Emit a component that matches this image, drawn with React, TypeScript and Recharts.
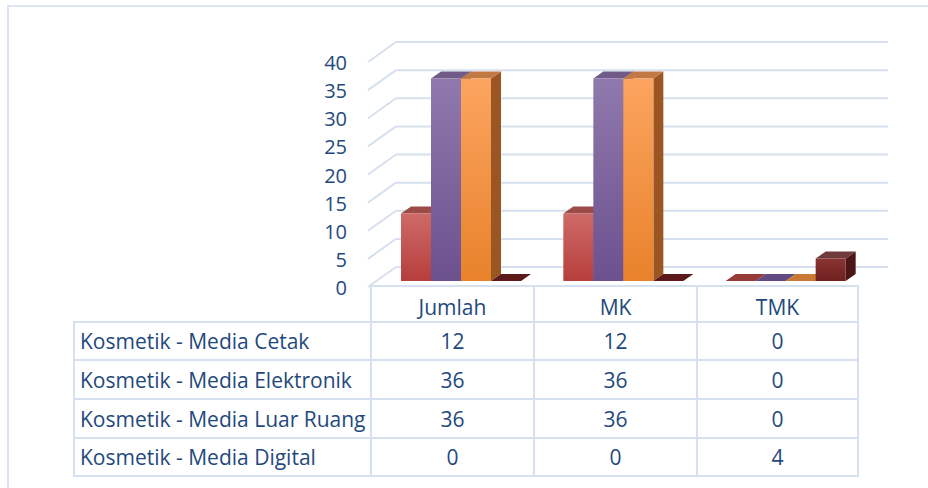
import React from "react";
import { BarChart, Bar, XAxis, YAxis, CartesianGrid } from "recharts";

// categories along the x axis (also the table header)
const categories = ["Jumlah", "MK", "TMK"];

// one series per media type
const seriesNames = [
  "Kosmetik - Media Cetak",
  "Kosmetik - Media Elektronik",
  "Kosmetik - Media Luar Ruang",
  "Kosmetik - Media Digital",
];
const mediaCetak = [12, 12, 0];
const mediaElektronik = [36, 36, 0];
const mediaLuarRuang = [36, 36, 0];
const mediaDigital = [0, 0, 4];

const yTicks = [0, 5, 10, 15, 20, 25, 30, 35, 40];

const seriesValues = [mediaCetak, mediaElektronik, mediaLuarRuang, mediaDigital];
const keys = ["cetak", "elektronik", "luar", "digital"];

const data = categories.map((cat, i) => ({
  name: cat,
  cetak: mediaCetak[i],
  elektronik: mediaElektronik[i],
  luar: mediaLuarRuang[i],
  digital: mediaDigital[i],
}));

// colours for front (gradient top/bottom), top face, side face, flat (zero) face
const palettes = [
  { top: "#ce6a67", bottom: "#b63e3b", cap: "#9d4b48", side: "#7e2e2c", flat: "#973b39" },
  { top: "#9079ac", bottom: "#6c518f", cap: "#6f5a88", side: "#4f3a6a", flat: "#624a82" },
  { top: "#fca45f", bottom: "#e8822b", cap: "#c27a45", side: "#9c5623", flat: "#c97934" },
  { top: "#8a3534", bottom: "#6e1f1e", cap: "#6e3b3a", side: "#4c1616", flat: "#5b1a19" },
];

const TEXT = "#1f497d";
const GRID = "#d6e0ee";
const FONT = "'Open Sans', sans-serif";

// 3D offsets
const WALL_DX = 26;
const WALL_DY = 19;
const BAR_SHIFT_X = 10;
const BAR_SHIFT_Y = 5;
const DEPTH_X = 10;
const DEPTH_Y = 7;

function Bar3D(props: any) {
  const { x, y, width, height, idx } = props;
  const pal = palettes[idx];
  const fx = x + BAR_SHIFT_X;
  const fy = y - BAR_SHIFT_Y;
  const h = Math.max(0, height);
  if (h < 0.5) {
    const b = fy + h;
    const pts = `${fx},${b} ${fx + width},${b} ${fx + width + DEPTH_X},${b - DEPTH_Y} ${fx + DEPTH_X},${b - DEPTH_Y}`;
    return <polygon points={pts} fill={pal.flat} />;
  }
  const cap = `${fx},${fy} ${fx + width},${fy} ${fx + width + DEPTH_X},${fy - DEPTH_Y} ${fx + DEPTH_X},${fy - DEPTH_Y}`;
  const side = `${fx + width},${fy} ${fx + width + DEPTH_X},${fy - DEPTH_Y} ${fx + width + DEPTH_X},${fy + h - DEPTH_Y} ${fx + width},${fy + h}`;
  return (
    <g>
      <polygon points={side} fill={pal.side} />
      <polygon points={cap} fill={pal.cap} />
      <rect x={fx} y={fy} width={width} height={h} fill={`url(#face${idx})`} />
    </g>
  );
}

function WallLine(props: any) {
  const { x1, y1, x2 } = props;
  return (
    <g>
      <line x1={x1 - 2} y1={y1 + 1} x2={x1 + WALL_DX} y2={y1 - WALL_DY} stroke={GRID} strokeWidth={2} />
      <line x1={x1 + WALL_DX} y1={y1 - WALL_DY} x2={x2 + 31} y2={y1 - WALL_DY} stroke={GRID} strokeWidth={2} />
    </g>
  );
}

function YTick(props: any) {
  const { x, y, payload } = props;
  return (
    <text x={x} y={y} dy={9} textAnchor="end" fill={TEXT} fontSize={20} fontFamily={FONT}>
      {payload.value}
    </text>
  );
}

const colWidths = [297, 163, 163, 161];
const rowHeights = [36, 38, 39, 39, 38];

const cellBorder = `2px solid ${GRID}`;

export default function App() {
  return (
    <div style={{ position: "absolute", left: 0, top: 0, width: 928, height: 488, overflow: "hidden", background: "#fff", fontFamily: FONT }}>
      <div
        style={{
          position: "absolute",
          left: 7,
          top: 5,
          width: 940,
          height: 500,
          borderLeft: `2px solid #dce5f1`,
          borderTop: `2px solid #dce5f1`,
        }}
      />
      <div style={{ position: "absolute", left: 0, top: 0 }}>
        <BarChart
          width={928}
          height={300}
          data={data}
          margin={{ top: 61, right: 71, bottom: 14, left: 0 }}
          barGap={0}
          barSize={30}
        >
          <defs>
            {palettes.map((p, i) => (
              <linearGradient key={i} id={`face${i}`} x1="0" y1="0" x2="0" y2="1">
                <stop offset="0%" stopColor={p.top} />
                <stop offset="100%" stopColor={p.bottom} />
              </linearGradient>
            ))}
          </defs>
          <CartesianGrid vertical={false} horizontal={(p: any) => <WallLine key={p.key ?? p.index} {...p} />} />
          <XAxis dataKey="name" hide />
          <YAxis
            width={370}
            domain={[0, 40]}
            ticks={yTicks}
            interval={0}
            axisLine={false}
            tickLine={false}
            tickSize={0}
            tickMargin={23}
            tick={<YTick />}
          />
          {keys.map((k, i) => (
            <Bar
              key={k}
              dataKey={k}
              name={seriesNames[i]}
              isAnimationActive={false}
              shape={(p: any) => <Bar3D {...p} idx={i} />}
            />
          ))}
        </BarChart>
      </div>
      <table
        style={{
          position: "absolute",
          left: 73,
          top: 285,
          borderCollapse: "collapse",
          tableLayout: "fixed",
          color: TEXT,
          fontSize: 21,
          fontFamily: FONT,
          lineHeight: "24px",
        }}
      >
        <colgroup>
          {colWidths.map((w, i) => (
            <col key={i} style={{ width: w }} />
          ))}
        </colgroup>
        <tbody>
          <tr style={{ height: rowHeights[0] }}>
            <td style={{ border: "none" }} />
            {categories.map((c) => (
              <td key={c} style={{ border: cellBorder, textAlign: "center", padding: "6px 0 0 0" }}>
                {c}
              </td>
            ))}
          </tr>
          {seriesNames.map((s, r) => (
            <tr key={s} style={{ height: rowHeights[r + 1] }}>
              <td style={{ border: cellBorder, padding: "0 0 0 5px", whiteSpace: "nowrap" }}>{s}</td>
              {seriesValues[r].map((v, c) => (
                <td key={c} style={{ border: cellBorder, textAlign: "center", padding: 0 }}>
                  {v}
                </td>
              ))}
            </tr>
          ))}
        </tbody>
      </table>
    </div>
  );
}
